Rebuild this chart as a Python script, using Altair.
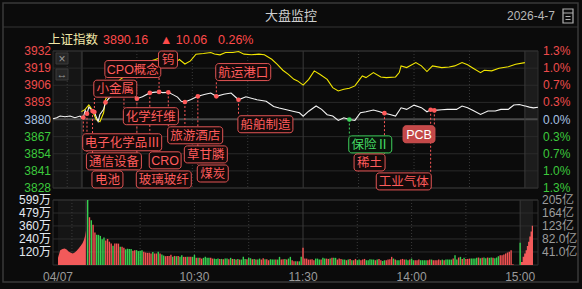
import altair as alt
import pandas as pd

FONT = "Liberation Sans, Noto Sans CJK SC, DejaVu Sans, sans-serif"

# ---------------- header text ----------------
TITLE = "大盘监控"
DATE = "2026-4-7"
INDEX_NAME = "上证指数"
LAST = "3890.16"
CHANGE = "▲ 10.06"
CHANGE_PCT = "0.26%"

# ---------------- axes ----------------
price_ticks = [3932, 3919, 3906, 3893, 3880, 3867, 3854, 3841, 3828]
pct_labels = ["1.3%", "1.0%", "0.7%", "0.3%", "0.0%", "0.3%", "0.7%", "1.0%", "1.3%"]
PREV_CLOSE = 3880.1
vol_ticks = [599, 479, 360, 240, 120]
vol_labels = ["599万", "479万", "360万", "240万", "120万"]
amt_labels = ["205亿", "164亿", "123亿", "82.0亿", "41.0亿"]
time_labels = ["10:30", "11:30", "14:00", "15:00"]
time_label_min = [60, 120, 180, 240]
DAY_LABEL = "04/07"

# ---------------- index line (white) ----------------
pre_white_t = [0, 1.3, 2.5, 4.2, 6.0, 7.7, 9.5, 10]
pre_white_p = [3880.6, 3881.3, 3882.6, 3882.1, 3882.6, 3881.3, 3882.6, 3881.5]
white_min = [0, 1, 2, 3, 4, 5, 6, 7, 8, 9, 10, 12, 13, 15, 17, 20, 23, 25, 28, 30,
             33, 37, 40, 42, 44, 47, 50, 52, 54, 56, 59, 63, 67, 70, 73, 77, 81, 85, 89, 95,
             100, 104, 107, 111, 115, 118, 120, 123, 127, 130, 133, 136, 139, 142, 145, 148, 151, 154, 158, 161,
             164, 167, 170, 173, 176, 180, 184, 187, 189, 191, 195, 198, 203, 206, 209, 212, 216, 220, 224, 227,
             231, 234, 237, 240]
white_px = [3881.1, 3881.5, 3886.9, 3884.4, 3889.5, 3888.0, 3886.4, 3885.7, 3882.0, 3878.5, 3883.8, 3887.7, 3893.0, 3896.3, 3898.1, 3900.1, 3898.9, 3897.6, 3898.9, 3895.8,
            3897.3, 3900.2, 3900.8, 3900.9, 3900.4, 3900.6, 3898.5, 3897.0, 3893.8, 3893.3, 3895.0, 3897.6, 3899.2, 3900.1, 3897.6, 3899.2, 3900.1, 3895.0, 3897.3, 3895.0,
            3893.8, 3889.9, 3888.7, 3887.4, 3886.1, 3885.1, 3882.5, 3886.3, 3890.3, 3887.7, 3883.6, 3882.6, 3879.3, 3881.3, 3880.0, 3879.3, 3885.1, 3885.9, 3887.2, 3886.1,
            3884.8, 3883.8, 3882.6, 3888.9, 3887.7, 3890.9, 3889.0, 3885.9, 3887.4, 3886.9, 3887.4, 3887.7, 3887.7, 3890.2, 3889.0, 3886.9, 3883.8, 3886.4, 3886.4, 3887.7,
            3887.7, 3891.0, 3891.4, 3890.2]
post_white_t = [0, 8, 16, 25]
post_white_p = [3890.2, 3889.4, 3888.8, 3889.3]

# ---------------- yellow line ----------------
yellow_min = [0, 2, 4, 5, 6, 8, 10, 12, 13, 15, 16, 18, 21, 25, 28, 31, 33, 37, 40, 43,
              45, 48, 52, 53, 56, 59, 62, 66, 70, 72, 75, 78, 82, 85, 88, 92, 96, 99, 103, 106,
              109, 112, 115, 117, 120, 123, 126, 129, 133, 136, 139, 142, 145, 148, 150, 152, 154, 158, 162, 165,
              170, 172, 173, 176, 181, 184, 187, 190, 195, 199, 202, 206, 209, 212, 216, 218, 222, 226, 231, 235, 240]
yellow_px = [3886.0, 3887.7, 3891.0, 3889.0, 3886.4, 3880.0, 3878.3, 3885.1, 3895.3, 3899.1, 3902.7, 3906.7, 3910.5, 3914.3, 3918.1, 3921.0, 3921.9, 3924.2, 3925.5, 3927.0,
             3929.6, 3928.6, 3924.5, 3925.5, 3922.1, 3924.5, 3929.6, 3930.1, 3930.9, 3929.7, 3929.1, 3930.9, 3930.9, 3931.6, 3929.6, 3929.1, 3929.6, 3929.1, 3925.7, 3921.9,
             3917.4, 3914.3, 3910.5, 3909.3, 3906.1, 3910.5, 3916.9, 3914.3, 3910.5, 3904.2, 3901.7, 3902.9, 3903.7, 3905.5, 3909.3, 3913.1, 3911.8, 3915.6, 3912.3, 3911.8,
             3912.3, 3915.6, 3920.7, 3919.4, 3923.2, 3920.7, 3916.4, 3920.7, 3919.4, 3919.9, 3920.7, 3923.2, 3921.5, 3918.9, 3915.6, 3917.4, 3916.9, 3918.9, 3920.0, 3921.9, 3923.2]

# ---------------- volume (万), r = up bar, g = down bar ----------------
vol_am = ("599g 440r 412g 371r 300r 278g 278g 268g 237g 253g "
          "225r 240r 215r 197r 178g 197r 197r 197r 168g 168r "
          "159r 144g 150g 147g 147g 131r 137r 137g 128g 131g "
          "137g 122r 115r 112r 112r 106r 119g 106r 106r 122g "
          "106r 97g 87g 81r 84r 84r 94r 75g 84r 81g "
          "84r 75g 90g 75r 75r 75g 75r 75r 75g 94g "
          "66r 66g 66r 59r 66g 75g 66g 66g 66r 59r "
          "59g 56g 59g 56r 56g 53r 59g 59g 53r 66g "
          "56r 56g 50r 56g 50r 50g 75g 56g 53r 66g "
          "62g 53r 56g 50r 50g 59g 50r 62r 53g 53r "
          "44r 53g 50g 50g 50r 50g 75g 50r 53r 56g "
          "50r 59g 75g 44r 34r 34g 34r 34g 75g 159r")
vol_pm = ("59r 59r 50r 50r 53r 44r 59g 59g 50g 50r "
          "66g 59g 59r 56r 59g 66r 66g 66g 50r 59r "
          "56r 50g 50g 44r 50g 56r 44g 44r 56r 44g "
          "50g 44r 50r 56r 44g 44g 53g 50g 50g 44r "
          "50g 56r 44r 37g 44g 44r 50r 53r 75r 59g "
          "50r 44g 44g 50r 56r 50r 50g 44g 50r 59g "
          "44g 44r 44r 50r 44g 44g 44g 44g 44r 50r "
          "50g 44r 44r 44r 50r 44r 50g 44r 50g 50g "
          "50g 50g 59r 90g 50g 69r 75g 56r 66g 56r "
          "56r 59r 59g 59g 59g 66g 69r 62g 66r 69g "
          "62g 69r 66g 69g 66r 62g 69g 81g 90r 90r "
          "97r 106r 115r 122r 137r 6r")
close_auction_vol = "206g"
pre_vol_t = [0, 0.8, 1.6, 2.4, 3.1, 3.9, 4.6, 5.3, 6.0, 6.7, 7.4, 8.1, 8.8, 9.3, 9.7, 10.0]
pre_vol = [66, 137, 147, 153, 143, 122, 112, 106, 115, 131, 153, 175, 200, 231, 268, 318]
post_vol_t = [0.5, 1, 4, 7, 10, 12.5, 15, 17.5, 20, 22.5, 25]
post_vol = [28, 28, 75, 106, 137, 175, 215, 262, 309, 362, 459]

# ---------------- event labels ----------------
ev_names = ["电子化学品Ⅲ", "通信设备", "电池", "小金属", "CPO概念", "化学纤维", "玻璃玻纤", "CRO", "钨",
            "旅游酒店", "草甘膦", "煤炭", "航运港口", "船舶制造", "保险Ⅱ", "稀土", "工业气体", "PCB"]
ev_min = [1, 3, 6, 7, 13, 23, 30, 37, 42, 47, 56, 63, 73, 85, 145, 164, 189, 191]
ev_level = [3862.7, 3848.2, 3834.5, 3903.4, 3918.3, 3882.5, 3834.5, 3849.0, 3925.5,
            3868.0, 3853.5, 3839.0, 3916.0, 3876.4, 3861.1, 3847.4, 3833.0, 3868.8]
ev_side = ["L"] * 15 + ["R", "R", "R"]
ev_kind = ["up"] * 14 + ["down", "up", "up", "hot"]

# =========================================================
W, H_P, H_V = 485, 137, 65
X_DOM = [-15.4, 247.1]
Y_DOM = [3828, 3932]
PXU = W / (X_DOM[1] - X_DOM[0])
PXP = H_P / (Y_DOM[1] - Y_DOM[0])


def pre_pos(t):
    return X_DOM[0] + t * 1.54


def post_pos(t):
    return 240.3 + t * 0.272


xs = alt.Scale(domain=X_DOM, nice=False, zero=False)
ys = alt.Scale(domain=Y_DOM, nice=False, zero=False)
vs = alt.Scale(domain=[0, 599], nice=False, zero=True)

RED, GREEN, BLUEW = "#ee4b4b", "#3cc83c", "#a9c2e2"
GRID, VLINE = "#2a2a2a", "#3a3a3a"


def X(f="pos"):
    return alt.X(f"{f}:Q", scale=xs, axis=None)


def YP(f="price"):
    return alt.Y(f"{f}:Q", scale=ys, axis=None)


def YV(f="vol"):
    return alt.Y(f"{f}:Q", scale=vs, axis=None)


def deco_text(text, x, y, color, size=12, align="left", font=FONT):
    return alt.Chart(alt.Data(values=[{}])).mark_text(
        text=text, color=color, fontSize=size, align=align, baseline="middle", font=font
    ).encode(x=alt.value(x), y=alt.value(y))


def deco_rect(x, x2, y, y2, stroke, fill="#000000", fill_op=0.0, sw=1.0, op=1.0):
    return alt.Chart(alt.Data(values=[{}])).mark_rect(
        stroke=stroke, strokeWidth=sw, fill=fill, fillOpacity=fill_op, opacity=op
    ).encode(x=alt.value(x), x2=alt.value(x2), y=alt.value(y), y2=alt.value(y2))


def deco_rule(x, x2, y, y2, color, sw=1.0):
    return alt.Chart(alt.Data(values=[{}])).mark_rule(color=color, strokeWidth=sw).encode(
        x=alt.value(x), x2=alt.value(x2), y=alt.value(y), y2=alt.value(y2))


regions = pd.DataFrame({"x1": [pre_pos(0), 240.0], "x2": [0.2, X_DOM[1]],
                        "fill": ["#151515", "#1c1c1c"]})
dotted_pos = pd.DataFrame({"pos": [pre_pos(5), 30, 60, 90, 150, 180, 210]})
solid_pos = pd.DataFrame({"pos": [120, 240]})
sep_pos = pd.DataFrame({"pos": [0.2]})


def vlines(h):
    return [
        alt.Chart(dotted_pos).mark_rule(color=VLINE, strokeDash=[1, 2]).encode(
            x=X(), y=alt.value(0), y2=alt.value(h)),
        alt.Chart(solid_pos).mark_rule(color=VLINE).encode(x=X(), y=alt.value(0), y2=alt.value(h)),
        alt.Chart(sep_pos).mark_rule(color="#2c2c2c", strokeWidth=2).encode(
            x=X(), y=alt.value(0), y2=alt.value(h)),
    ]


def bg(h):
    return alt.Chart(regions).mark_rect(opacity=1).encode(
        x=X("x1"), x2="x2:Q", y=alt.value(0), y2=alt.value(h),
        fill=alt.Fill("fill:N", scale=None))


def col_of(p):
    return RED if p > PREV_CLOSE + 0.5 else (GREEN if p < PREV_CLOSE - 0.5 else BLUEW)


ticks_df = pd.DataFrame({"price": price_ticks,
                         "label": [str(v) for v in price_ticks],
                         "pct": pct_labels,
                         "col": [col_of(v) for v in price_ticks]})

white_df = pd.DataFrame(
    {"pos": [pre_pos(t) for t in pre_white_t] + list(white_min) + [post_pos(t) for t in post_white_t],
     "price": pre_white_p + white_px + post_white_p})
yellow_df = pd.DataFrame({"pos": yellow_min, "price": yellow_px})
white_lookup = dict(zip(white_min, white_px))


def text_w(s):
    return sum(12.0 if ord(c) > 0x2000 else 8.3 for c in s) + 7


kind_style = {
    "up": dict(stroke="#e25555", fill="#140909", tcol="#ff5c5c", dot="#ff5a5a"),
    "down": dict(stroke="#3fcf5c", fill="#08140a", tcol="#46dc66", dot="#3fd65e"),
    "hot": dict(stroke="#d05050", fill="#c44848", tcol="#ffffff", dot="#ff5a5a"),
}
rows = []
half_h = 8.5 / PXP
for name, m, lev, side, kind in zip(ev_names, ev_min, ev_level, ev_side, ev_kind):
    w = text_w(name) / PXU
    if side == "L":
        x1 = m - 0.6 / PXU
        x2 = x1 + w
    else:
        x2 = m + 0.6 / PXU
        x1 = x2 - w
    dotp = white_lookup[m]
    edge = lev - half_h if lev > dotp else lev + half_h
    st = kind_style[kind]
    rows.append(dict(name=name, pos=m, dot=dotp, edge=edge, x1=x1, x2=x2, tx=(x1 + x2) / 2,
                     level=lev, y1=lev - half_h, y2=lev + half_h, stroke=st["stroke"],
                     fill=st["fill"], tcol=st["tcol"], dcol=st["dot"]))
ev_df = pd.DataFrame(rows)

hgrid = pd.DataFrame({"price": price_ticks})
zero_df = pd.DataFrame({"price": [PREV_CLOSE]})

p_layers = [
    deco_rect(-53, 529, -51, 238, "#000000", "#000000", 0, 0, 0),
    bg(H_P),
    alt.Chart(hgrid).mark_rule(color=GRID).encode(y=YP(), x=alt.value(0), x2=alt.value(W)),
    alt.Chart(zero_df).mark_rule(color="#4a4a4a", strokeWidth=2).encode(
        y=YP(), x=alt.value(0), x2=alt.value(W)),
    *vlines(H_P),
    deco_rect(0, W, 0, H_P, "#303030"),
    alt.Chart(yellow_df).mark_line(color="#f2e600", strokeWidth=1.1).encode(x=X(), y=YP()),
    alt.Chart(white_df).mark_line(color="#f4f4f4", strokeWidth=1.1).encode(x=X(), y=YP()),
    alt.Chart(ev_df).mark_rule(strokeDash=[2, 2], strokeWidth=1).encode(
        x=X(), y=YP("dot"), y2="edge:Q", color=alt.Color("dcol:N", scale=None)),
    alt.Chart(ev_df).mark_circle(size=22, opacity=1).encode(
        x=X(), y=YP("dot"), color=alt.Color("dcol:N", scale=None)),
    alt.Chart(ev_df).mark_rect(cornerRadius=3, strokeWidth=1).encode(
        x=X("x1"), x2="x2:Q", y=YP("y1"), y2="y2:Q",
        fill=alt.Fill("fill:N", scale=None), stroke=alt.Stroke("stroke:N", scale=None)),
    alt.Chart(ev_df).mark_text(fontSize=12.5, font=FONT, baseline="middle", align="center", dy=0.5).encode(
        x=X("tx"), y=YP("level"), text="name:N", color=alt.Color("tcol:N", scale=None)),
    alt.Chart(ticks_df).mark_text(fontSize=12, font=FONT, align="right", baseline="middle").encode(
        x=alt.value(-2), y=YP(), text="label:N", color=alt.Color("col:N", scale=None)),
    alt.Chart(ticks_df).mark_text(fontSize=12, font=FONT, align="left", baseline="middle").encode(
        x=alt.value(490), y=YP(), text="pct:N", color=alt.Color("col:N", scale=None)),
    deco_rect(3, 15, 2, 13, "#3a3a3a", "#262626", 1),
    deco_text("×", 9, 7.5, "#9a9a9a", 12, "center"),
    deco_rect(3, 15, 18, 29, "#3a3a3a", "#262626", 1),
    deco_text("↔", 9, 23.5, "#9a9a9a", 11, "center"),
    deco_text(INDEX_NAME, -5, -11, "#f2e8a8", 12.5),
    deco_text(LAST, 50, -11, "#ff4a4a", 12.5),
    deco_text(CHANGE, 107, -11, "#ff4a4a", 12.5),
    deco_text(CHANGE_PCT, 165, -11, "#ff4a4a", 12.5),
    deco_text(TITLE, 238, -35, "#cfcfcf", 13, "center"),
    deco_text(DATE, 502, -35, "#b8b8b8", 12, "right"),
    deco_rect(510, 520, -42, -28, "#b0b0b0", sw=1.2),
    deco_rule(510, 520, -38, -38, "#b0b0b0"),
    deco_rule(512.5, 517.5, -34.5, -34.5, "#b0b0b0"),
    deco_rule(512.5, 517.5, -31.5, -31.5, "#b0b0b0"),
    deco_rule(-50, 525, -24, -24, "#353535"),
    deco_rect(-50, 525, -48, 231, "#3a3a3a", sw=1.5),
]
price_chart = alt.layer(*p_layers).properties(width=W, height=H_P)


def parse(s):
    return [float(t[:-1]) for t in s.split()], [t[-1] for t in s.split()]


am_v, am_c = parse(vol_am)
pm_v, pm_c = parse(vol_pm)
cl_v, cl_c = parse(close_auction_vol)
bar_pos = list(range(1, len(am_v) + 1)) + list(range(121, 121 + len(pm_v))) + [240]
bar_df = pd.DataFrame({"pos": bar_pos, "vol": am_v + pm_v + cl_v,
                       "col": ["#f25252" if c == "r" else "#36d050" for c in am_c + pm_c + cl_c]})
pre_vol_df = pd.DataFrame({"pos": [pre_pos(t) for t in pre_vol_t], "vol": pre_vol})
post_vol_df = pd.DataFrame({"pos": [post_pos(t) for t in post_vol_t], "vol": post_vol})
vt_df = pd.DataFrame({"vol": vol_ticks, "label": vol_labels, "amt": amt_labels})
tl_df = pd.DataFrame({"pos": [pre_pos(0)] + time_label_min, "label": [DAY_LABEL] + time_labels})

v_layers = [
    bg(H_V),
    alt.Chart(vt_df).mark_rule(color="#2c2c2c").encode(y=YV(), x=alt.value(0), x2=alt.value(W)),
    *vlines(H_V),
    deco_rect(0, W, 0, H_V, "#303030"),
    alt.Chart(pre_vol_df).mark_area(color="#f25a5a", opacity=1).encode(x=X(), y=YV()),
    alt.Chart(post_vol_df).mark_area(color="#f25a5a", opacity=1, interpolate="step-after").encode(
        x=X(), y=YV()),
    alt.Chart(bar_df).mark_bar(size=1.4, opacity=1).encode(
        x=X(), y=YV(), color=alt.Color("col:N", scale=None)),
    alt.Chart(vt_df).mark_text(fontSize=12, font=FONT, align="right", baseline="middle",
                               color="#e2e8f0").encode(x=alt.value(-2), y=YV(), text="label:N"),
    alt.Chart(vt_df).mark_text(fontSize=12, font=FONT, align="left", baseline="middle",
                               color="#9c9c9c").encode(x=alt.value(489), y=YV(), text="amt:N"),
    alt.Chart(tl_df).mark_text(fontSize=12, font=FONT, align="center", baseline="middle",
                               color="#9a9a9a").encode(x=X(), y=alt.value(77), text="label:N"),
]
vol_chart = alt.layer(*v_layers).properties(width=W, height=H_V)

chart = alt.vconcat(price_chart, vol_chart, spacing=12, bounds="flush").properties(
    padding=0,
    autosize=alt.AutoSizeParams(type="pad"),
    background="#0b0b0b",
).configure_view(stroke=None)

chart.save("out.html", embed_options={"renderer": "svg", "actions": False})
